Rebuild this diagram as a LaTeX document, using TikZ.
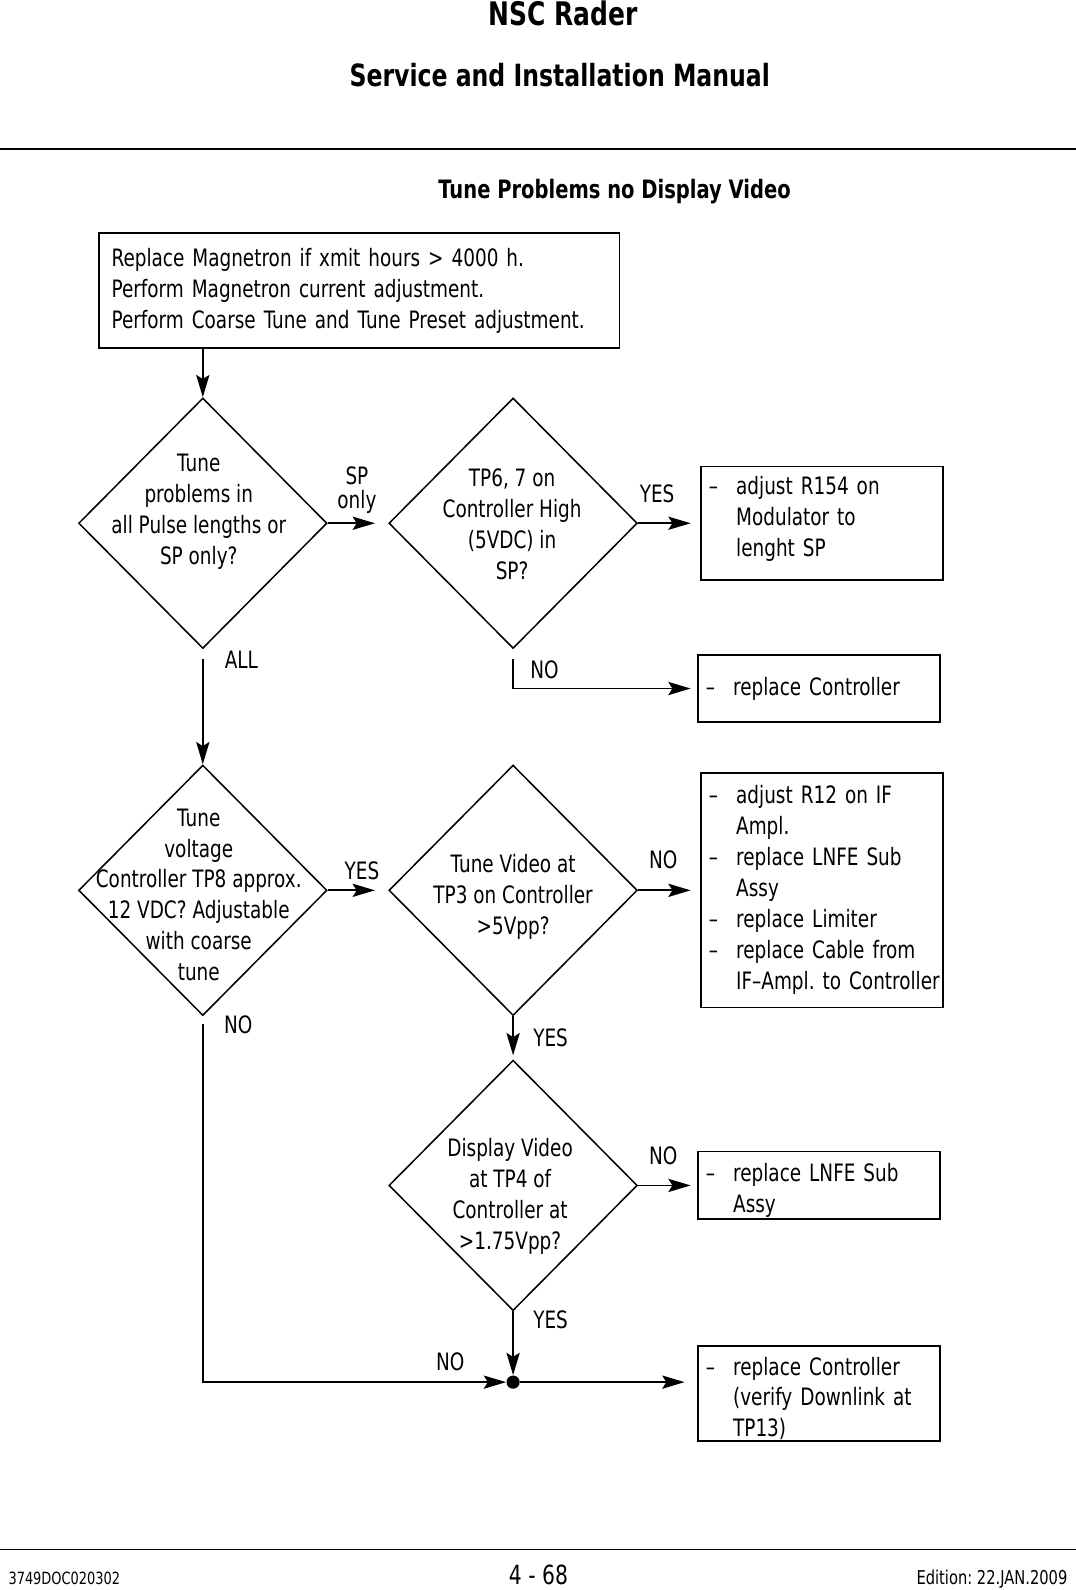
\documentclass[tikz,border=0pt]{standalone}
\usepackage{fontspec}
\setmainfont{DejaVu Sans}[FakeStretch=0.77]
\usetikzlibrary{shapes.geometric,arrows.meta,positioning}

\newcommand{\bodyfont}{\fontsize{11.8}{15.25}\selectfont}
\newcommand{\itm}{\makebox[13.5pt][l]{--}}
\frenchspacing

\begin{document}
\begin{tikzpicture}[x=0.5pt, y=-0.5pt,
    dia/.style={draw, diamond, minimum width=122.5pt, minimum height=123.5pt,
                inner sep=0pt, line width=0.75pt},
    qtext/.style={align=center, font=\bodyfont, inner sep=0pt},
    box/.style={draw, line width=0.9pt, font=\bodyfont, align=left,
                inner xsep=4pt, inner ysep=0pt, text width=111.5pt},
    lbl/.style={font=\bodyfont, inner sep=0pt},
    flow/.style={-{Stealth[length=11pt, width=6.5pt, inset=2pt]}, line width=0.9pt}]
\useasboundingbox (0,0) rectangle (1061,1568);

% page head
\node[font=\fontsize{16}{18}\selectfont\bfseries] (head) at (555,13) {NSC Rader};
\node[font=\fontsize{15.1}{18}\selectfont\bfseries] (manual) at (552,74) {Service and Installation Manual};
\draw[line width=0.8pt] (0,147) -- (1061,147);
\node[font=\fontsize{12.5}{14}\selectfont\bfseries] (title) at (606,189) {Tune Problems no Display Video};

% first box
\node[box, text width=244.5pt, inner xsep=6pt, minimum height=56.5pt] (magn) at (354.5,286.5)
    {Replace Magnetron if xmit hours > 4000 h.\\
     Perform Magnetron current adjustment.\\
     Perform Coarse Tune and Tune Preset adjustment.};

% decisions
\node[dia] (pulse) at (200,516) {};
\node[qtext] (pulset) at (196,504.5) {Tune\\problems in\\all Pulse lengths or\\SP only?};
\node[dia] (tpsix) at (506,516) {};
\node[qtext] (tpsixt) at (505,517) {TP6, 7 on\\Controller High\\(5VDC) in\\SP?};
\node[dia] (volt) at (200,878) {};
\node[qtext] (voltt) at (196,882.5) {Tune\\voltage\\Controller TP8 approx.\\12 VDC? Adjustable\\with coarse\\tune};
\node[dia] (tvid) at (506,878) {};
\node[qtext] (tvidt) at (506,884.5) {Tune Video at\\TP3 on Controller\\>5Vpp?};
\node[dia] (dvid) at (506,1169) {};
\node[qtext] (dvidt) at (503,1179.5) {Display Video\\at TP4 of\\Controller at\\>1.75Vpp?};
\node[circle, fill, inner sep=0pt, minimum size=6.5pt] (join) at (506,1363) {};

% actions
\node[box, minimum height=56pt] (modul) at (810.5,516)
    {\raisebox{2pt}[\height][\depth]{\begin{tabular}{@{}l@{}}\itm adjust R154 on\\\hspace{13.5pt}Modulator to\\\hspace{13.5pt}lenght SP\end{tabular}}};
\node[box, minimum height=33pt] (repc) at (807.5,679)
    {\itm replace Controller};
\node[box, minimum height=115.5pt] (ifamp) at (810.5,878)
    {\begin{tabular}{@{}l@{}}\itm adjust R12 on IF\\\hspace{13.5pt}Ampl.\\
     \itm replace LNFE Sub\\\hspace{13.5pt}Assy\\
     \itm replace Limiter\\
     \itm replace Cable from\\\hspace{13.5pt}IF--Ampl. to Controller\end{tabular}};
\node[box, minimum height=33.5pt] (lnfe) at (807.5,1169)
    {\raisebox{-2.5pt}[\height][\depth]{\begin{tabular}{@{}l@{}}\itm replace LNFE Sub\\\hspace{13.5pt}Assy\end{tabular}}};
\node[box, minimum height=47pt] (repv) at (807.5,1374)
    {\raisebox{-3.2pt}[\height][\depth]{\begin{tabular}{@{}l@{}}\itm replace Controller\\\hspace{13.5pt}(verify Downlink at\\\hspace{13.5pt}TP13)\end{tabular}}};

% connectors
\draw[flow] (magn.south -| pulse.north) -- (pulse.north);
\draw[flow, shorten >=6.5pt] (pulse.east) -- (tpsix.west);
\draw[flow, shorten >=4.5pt] (tpsix.east) -- (tpsix.east -| modul.west);
\draw[flow, shorten <=5pt] (pulse.south) -- (volt.north);
\draw[flow, shorten <=5pt, shorten >=3pt] (tpsix.south) |- (repc.west);
\draw[flow, shorten >=6.5pt] (volt.east) -- (tvid.west);
\draw[flow, shorten >=4.5pt] (tvid.east) -- (tvid.east -| ifamp.west);
\draw[flow, shorten >=2pt] (tvid.south) -- (dvid.north);
\draw[flow, shorten >=3pt] (dvid.east) -- (dvid.east -| lnfe.west);
\draw[flow] (dvid.south) -- (join.north);
\draw[flow, shorten <=4pt] (volt.south) |- (join.west);
\draw[flow, shorten >=6pt] (join.east) -- (join.east -| repv.west);

% labels
\node[lbl, align=center, font=\fontsize{11.8}{12}\selectfont] (lsp) at (352,483) {SP\\only};
\node[lbl] (lyes1) at (648,487) {YES};
\node[lbl] (lall) at (238,651) {ALL};
\node[lbl] (lno1) at (537,661) {NO};
\node[lbl] (lyes2) at (357,859) {YES};
\node[lbl] (lno2) at (654,848) {NO};
\node[lbl] (lno3) at (235,1011) {NO};
\node[lbl] (lyes3) at (543,1023) {YES};
\node[lbl] (lno4) at (654,1140) {NO};
\node[lbl] (lyes4) at (543,1302) {YES};
\node[lbl] (lno5) at (444,1343) {NO};

% page foot
\draw[line width=0.6pt] (0,1528) -- (1061,1528);
\node[font=\fontsize{8.3}{10}\selectfont, anchor=west, inner sep=0pt] (docno) at (8,1557) {3749DOC020302};
\node[font=\fontsize{13}{15}\selectfont] (page) at (531,1553) {4 - 68};
\node[font=\fontsize{9.4}{10}\selectfont, anchor=east, inner sep=0pt] (edit) at (1053,1557) {Edition: 22.JAN.2009};
\end{tikzpicture}
\end{document}
